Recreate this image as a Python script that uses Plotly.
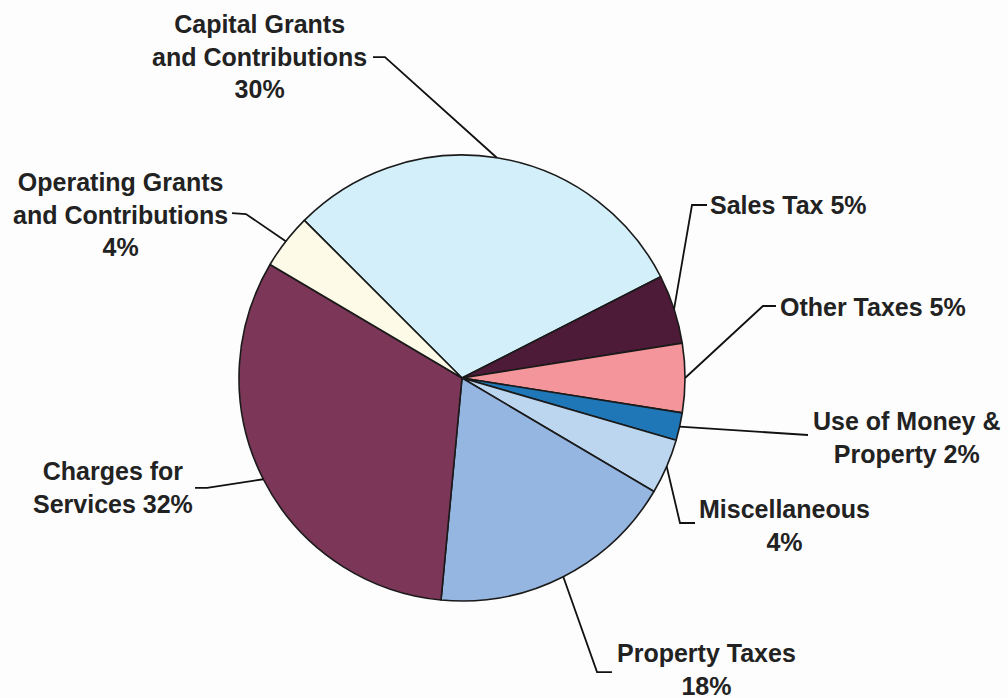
import math
import plotly.graph_objects as go

# Revenue sources (percent of total), clockwise from the top
categories = [
    "Capital Grants and Contributions",
    "Sales Tax",
    "Other Taxes",
    "Use of Money & Property",
    "Miscellaneous",
    "Property Taxes",
    "Charges for Services",
    "Operating Grants and Contributions",
]
shares = [30, 5, 5, 2, 4, 18, 32, 4]
label_texts = [
    "Capital Grants<br>and Contributions<br>30%",
    "Sales Tax 5%",
    "Other Taxes 5%",
    "Use of Money &<br>Property 2%",
    "Miscellaneous<br>4%",
    "Property Taxes<br>18%",
    "Charges for<br>Services 32%",
    "Operating Grants<br>and Contributions<br>4%",
]
colors = ["#d3f0fa", "#4d1a37", "#f3959b", "#1f77b8",
          "#bdd6ef", "#96b6e2", "#7c3658", "#fdfbe8"]

W, H = 1008, 698
CX, CY, R = 462, 378, 223          # pie centre and radius in pixels
ROTATION = -45                     # start angle of the first slice

# label placement: (x, y, xanchor) and leader elbow points, in pixels
label_pos = [
    (259, 56, "center"),
    (708, 205, "left"),
    (778, 307, "left"),
    (907, 437, "center"),
    (784, 525, "center"),
    (706, 669, "center"),
    (113, 487, "center"),
    (120, 214, "center"),
]
leader_start = [
    [(373, 57), (385, 57)],
    [(707, 205), (692, 205)],
    [(776, 306), (763, 306)],
    [(808, 435)],
    [(695, 523), (680, 523)],
    [(612, 672), (597, 672)],
    [(195, 488), (207, 488)],
    [(232, 213), (246, 214)],
]


def px(x, y):
    return x / W, 1 - y / H


fig = go.Figure()
fig.add_trace(go.Pie(
    labels=categories,
    values=shares,
    sort=False,
    direction="clockwise",
    rotation=ROTATION,
    marker=dict(colors=colors, line=dict(color="#1a1a1a", width=1.6)),
    textinfo="none",
    hoverinfo="label+percent",
    showlegend=False,
    domain=dict(x=[(CX - R) / W, (CX + R) / W],
                y=[(H - CY - R) / H, (H - CY + R) / H]),
))

total = sum(shares)
cum = 0.0
shapes = []
annotations = []
for i, v in enumerate(shares):
    mid = math.radians(ROTATION + 360 * (cum + v / 2) / total)
    cum += v
    tip = (CX + R * math.sin(mid), CY - R * math.cos(mid))
    pts = leader_start[i] + [tip]
    path = "M " + " L ".join("%.4f,%.4f" % px(*p) for p in pts)
    shapes.append(dict(type="path", path=path, xref="paper", yref="paper",
                       line=dict(color="#111111", width=1.8)))
    lx, ly, anc = label_pos[i]
    ax, ay = px(lx, ly)
    annotations.append(dict(
        x=ax, y=ay, xref="paper", yref="paper", text=label_texts[i],
        showarrow=False, xanchor=anc, yanchor="middle", align="center",
        font=dict(family="Liberation Sans, Arial, sans-serif", size=25,
                  color="#222222", weight="bold"),
    ))

fig.update_layout(
    width=W, height=H,
    margin=dict(l=0, r=0, t=0, b=0),
    paper_bgcolor="#fdfdfd",
    plot_bgcolor="#fdfdfd",
    shapes=shapes,
    annotations=annotations,
)

fig.write_html("out.html")
